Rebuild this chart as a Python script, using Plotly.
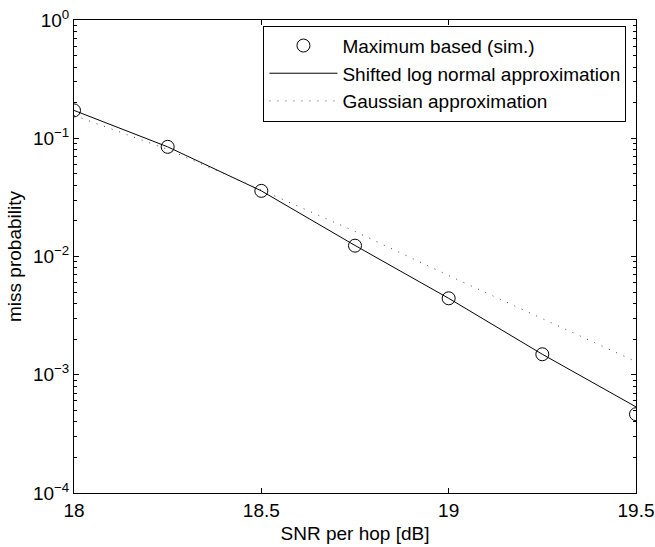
import plotly.graph_objects as go

# SNR per hop in dB
snr_db = [18.0, 18.25, 18.5, 18.75, 19.0, 19.25, 19.5]

# Simulated miss probability (maximum based detector)
sim_miss = [0.172, 0.0846, 0.0359, 0.01235, 0.00443, 0.00149, 0.000464]

# Shifted log-normal approximation
lognormal_miss = [0.172, 0.0846, 0.0359, 0.0124, 0.00443, 0.00149, 0.000535]

# Gaussian approximation
gauss_miss = [0.156, 0.0805, 0.0365, 0.0163, 0.0069, 0.00296, 0.00129]

x_ticks = [18, 18.5, 19, 19.5]
x_ticktext = ["18", "18.5", "19", "19.5"]
y_ticks = [1e-4, 1e-3, 1e-2, 1e-1, 1]
y_ticktext = ["10<sup>\u22124</sup>", "10<sup>\u22123</sup>", "10<sup>\u22122</sup>",
              "10<sup>\u22121</sup>", "10<sup>0</sup>"]
y_minor = [m * 10.0 ** e for e in range(-4, 0) for m in range(2, 10)]

FONT = "Liberation Sans, Arial, Helvetica, sans-serif"

fig = go.Figure()

fig.add_trace(go.Scatter(
    x=snr_db, y=sim_miss, mode="markers", name="Maximum based (sim.)",
    marker=dict(symbol="circle-open", size=13, color="black", line=dict(width=1)),
))
fig.add_trace(go.Scatter(
    x=snr_db, y=lognormal_miss, mode="lines", name="Shifted log normal approximation",
    line=dict(color="black", width=1),
))
fig.add_trace(go.Scatter(
    x=snr_db, y=gauss_miss, mode="lines", name="Gaussian approximation",
    line=dict(color="#444444", width=1, dash="1px,7px"),
))

fig.update_layout(
    width=655, height=547,
    margin=dict(l=74, r=19, t=20, b=54, autoexpand=False),
    paper_bgcolor="white", plot_bgcolor="white",
    font=dict(family=FONT, size=19, color="black"),
    showlegend=True,
    legend=dict(
        x=0.983, xanchor="right", y=0.988, yanchor="top",
        bgcolor="white", bordercolor="black", borderwidth=1,
        font=dict(family=FONT, size=19, color="black"),
        itemwidth=68,
    ),
)

fig.update_xaxes(
    range=[18, 19.5], automargin=False,
    tickvals=x_ticks, ticktext=x_ticktext,
    ticks="inside", ticklen=5, tickwidth=1, tickcolor="black",
    showline=True, linecolor="black", linewidth=1, mirror="ticks",
    showgrid=False, zeroline=False,
    tickfont=dict(size=19),
    title=dict(text="SNR per hop [dB]", font=dict(size=19), standoff=6),
)

fig.update_yaxes(
    type="log", range=[-4, 0], automargin=False,
    tickvals=y_ticks, ticktext=y_ticktext,
    ticks="inside", ticklen=5, tickwidth=1, tickcolor="black",
    showline=True, linecolor="black", linewidth=1, mirror="ticks",
    showgrid=False, zeroline=False,
    tickfont=dict(size=19),
    minor=dict(tickvals=y_minor, ticks="inside", ticklen=3, tickcolor="black", showgrid=False),
    title=dict(text="miss probability", font=dict(size=19), standoff=6),
)

fig.write_html("out.html")
